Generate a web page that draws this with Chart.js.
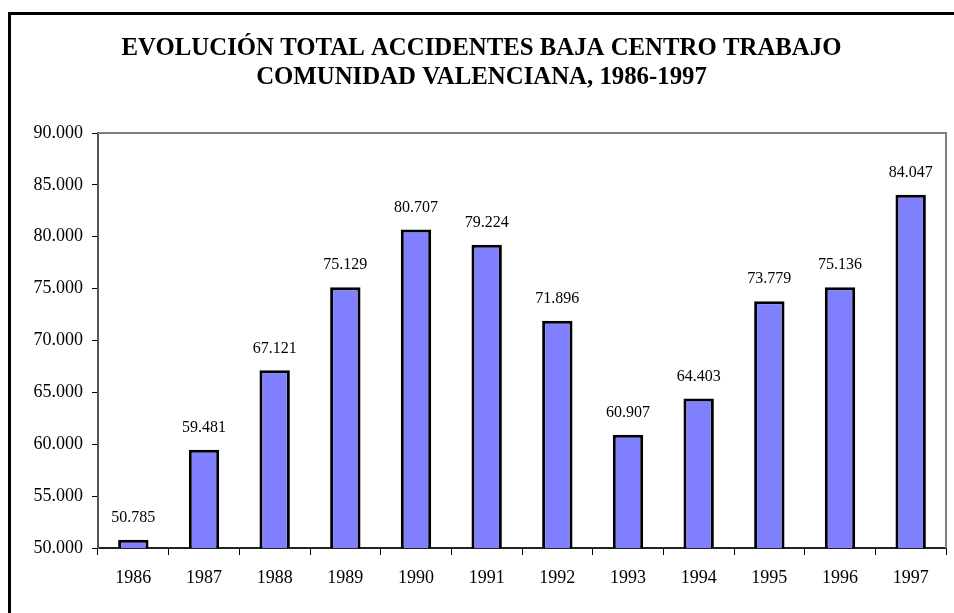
<!DOCTYPE html>
<html>
<head>
<meta charset="utf-8">
<script src="https://cdn.jsdelivr.net/npm/chart.js@4.4.1/dist/chart.umd.min.js"></script>
<style>
html,body{margin:0;padding:0;background:#fff;}
#wrap{position:relative;width:954px;height:613px;overflow:hidden;}
#frame{position:absolute;left:8px;top:12px;width:1000px;height:700px;border-left:3px solid #000;border-top:3px solid #000;box-sizing:border-box;pointer-events:none;}
canvas{position:absolute;left:0;top:0;}
</style>
</head>
<body>
<div id="wrap">
<canvas id="c" width="954" height="613"></canvas>
<div id="frame"></div>
</div>
<script>
const titleLines = ['EVOLUCIÓN TOTAL ACCIDENTES BAJA CENTRO TRABAJO', 'COMUNIDAD VALENCIANA, 1986-1997'];
const years = ['1986','1987','1988','1989','1990','1991','1992','1993','1994','1995','1996','1997'];
const accidents = [50785, 59481, 67121, 75129, 80707, 79224, 71896, 60907, 64403, 73779, 75136, 84047];
const yMin = 50000, yMax = 90000, yStep = 5000;

function fmt(v){ return Math.round(v).toString().replace(/\B(?=(\d{3})+(?!\d))/g, '.'); }

const SERIF = '"Liberation Serif", "Times New Roman", serif';

const frameAndLabels = {
  id: 'frameAndLabels',
  beforeDatasetsDraw(chart){
    const {ctx, chartArea:a} = chart;
    ctx.save();
    ctx.strokeStyle = '#808080';
    ctx.lineWidth = 2;
    ctx.beginPath();
    ctx.moveTo(a.left, a.top);
    ctx.lineTo(a.right, a.top);
    ctx.lineTo(a.right, a.bottom);
    ctx.stroke();
    ctx.restore();
  },
  afterDatasetsDraw(chart){
    const {ctx} = chart;
    const meta = chart.getDatasetMeta(0);
    ctx.save();
    ctx.font = '16px ' + SERIF;
    ctx.fillStyle = '#000';
    ctx.textAlign = 'center';
    ctx.textBaseline = 'middle';
    meta.data.forEach((el, i) => {
      ctx.fillText(fmt(chart.data.datasets[0].data[i]), el.x, el.y - 22);
    });
    ctx.restore();
  }
};

new Chart(document.getElementById('c'), {
  type: 'bar',
  data: {
    labels: years,
    datasets: [{
      data: accidents,
      backgroundColor: '#8080FF',
      borderColor: '#000',
      borderWidth: 3,
      borderSkipped: false,
      categoryPercentage: 1,
      barPercentage: 0.43
    }]
  },
  options: {
    responsive: false,
    animation: false,
    layout: { padding: { left: 17, right: 8, top: 0, bottom: 0 } },
    plugins: {
      legend: { display: false },
      tooltip: { enabled: false },
      title: {
        display: true,
        text: titleLines,
        color: '#000',
        font: { family: SERIF, size: 24.8, weight: 'bold', lineHeight: '29px' },
        padding: { top: 34, bottom: 41 }
      }
    },
    scales: {
      x: {
        grid: { drawOnChartArea: false, tickLength: 7, color: '#000', tickColor: '#000', offset: true },
        border: { color: '#222', width: 2 },
        ticks: { color: '#000', font: { family: SERIF, size: 18 }, padding: 12, maxRotation: 0 },
        afterFit(s){ s.height = 65; }
      },
      y: {
        min: yMin, max: yMax,
        grid: { drawOnChartArea: false, tickLength: 6, tickColor: '#000' },
        border: { color: '#555', width: 2 },
        ticks: { stepSize: yStep, color: '#000', font: { family: SERIF, size: 18 }, padding: 9, callback: v => fmt(v) },
        afterFit(s){ s.width = 81; }
      }
    }
  },
  plugins: [frameAndLabels]
});
</script>
</body>
</html>
